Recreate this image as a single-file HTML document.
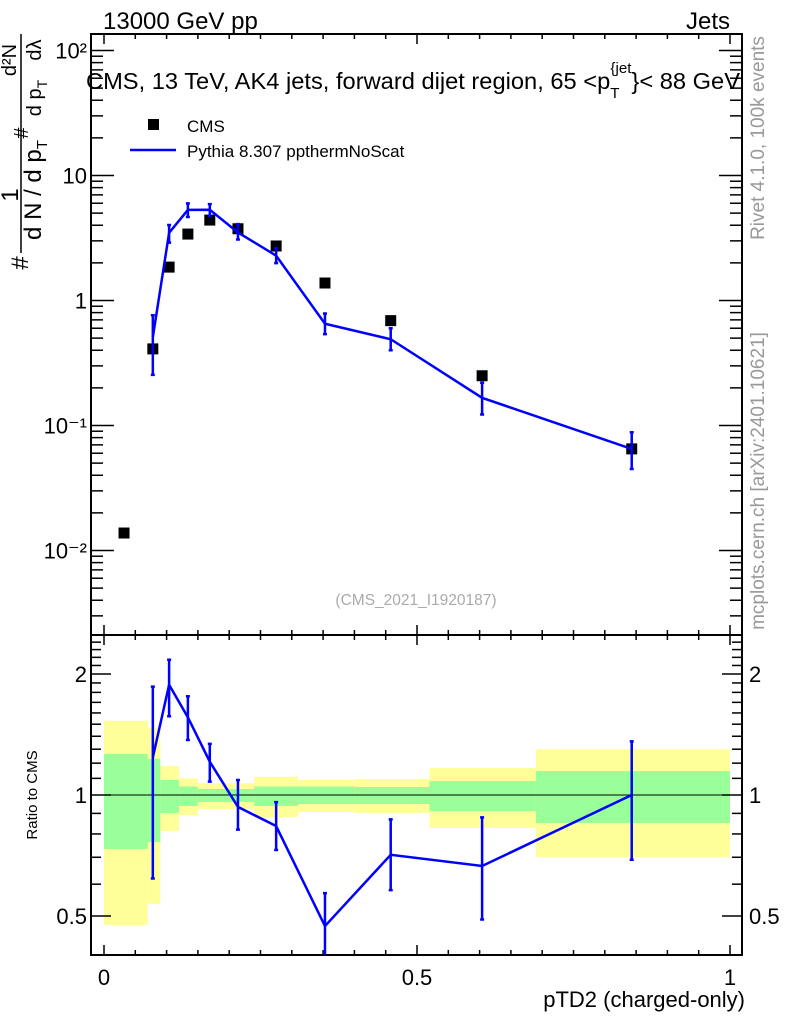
<!DOCTYPE html>
<html><head><meta charset="utf-8"><style>
body{margin:0;background:#fff;}
svg{display:block;font-family:"Liberation Sans",sans-serif;}
</style></head><body>
<svg id="c" width="786" height="1024" viewBox="0 0 786 1024">
<g id="bands"></g>
<g id="axes"></g>
<g id="marks"></g>
<text x="103" y="29" font-size="24">13000 GeV pp</text>
<text x="730" y="29" font-size="24" text-anchor="end">Jets</text>
<text x="86" y="89" font-size="23.5" textLength="654" lengthAdjust="spacingAndGlyphs">CMS, 13 TeV, AK4 jets, forward dijet region, 65 &lt;p<tspan font-size="15" dy="9">T</tspan><tspan font-size="15" dx="-9" dy="-25">{jet</tspan><tspan dy="16">}&lt; 88 GeV</tspan></text>
<rect x="148" y="119" width="11" height="11" fill="#000"/>
<text x="187" y="132" font-size="17">CMS</text>
<line x1="130" y1="150" x2="176" y2="150" stroke="#0000ff" stroke-width="2.5"/>
<text x="187" y="157" font-size="17">Pythia 8.307 ppthermNoScat</text>
<text x="416" y="605" font-size="15.5" fill="#aaa" text-anchor="middle">(CMS_2021_I1920187)</text>
<text transform="translate(764,138) rotate(-90)" font-size="19" fill="#999" text-anchor="middle">Rivet 4.1.0,  100k events</text>
<text transform="translate(764,481) rotate(-90)" font-size="19" fill="#999" text-anchor="middle">mcplots.cern.ch [arXiv:2401.10621]</text>
<text transform="translate(37,795) rotate(-90)" font-size="15" text-anchor="middle">Ratio to CMS</text>
<text x="745" y="1007" font-size="22" text-anchor="end">pTD2 (charged-only)</text>
<g font-size="24">
<text transform="translate(28,263) rotate(-90)" text-anchor="middle">#</text>
<text transform="translate(18,195) rotate(-90)" text-anchor="middle">1</text>
<line x1="21" y1="34" x2="21" y2="253" stroke="#000" stroke-width="1.5"/>
<text transform="translate(41,190) rotate(-90)" text-anchor="middle">d N / d p<tspan font-size="15" dy="6">T</tspan></text>
<text transform="translate(28,133) rotate(-90)" text-anchor="middle" font-size="20">#</text>
<text transform="translate(41,98) rotate(-90)" text-anchor="middle" font-size="20">d p<tspan font-size="14" dy="6">T</tspan></text>
<text transform="translate(16,60) rotate(-90)" text-anchor="middle" font-size="20">d²N</text>
<text transform="translate(41,50) rotate(-90)" text-anchor="middle" font-size="20">dλ</text>
</g>
</svg>
<script>
const xs=[0.032,0.078,0.104,0.134,0.169,0.214,0.275,0.353,0.458,0.604,0.843];
const cmsVals=[0.0138,0.41,1.85,3.4,4.4,3.75,2.73,1.38,0.69,0.25,0.065];
const mcX=[0.078,0.104,0.134,0.169,0.214,0.275,0.353,0.458,0.604,0.843];
const ratioVals=[1.24,1.88,1.56,1.21,0.934,0.837,0.472,0.71,0.666,1.0];
const ratioHi=[1.86,2.17,1.76,1.34,1.09,0.96,0.57,0.87,0.88,1.36];
const ratioLo=[0.62,1.57,1.37,1.08,0.82,0.73,0.39,0.58,0.49,0.69];
const binEdges=[0,0.07,0.09,0.12,0.15,0.24,0.31,0.40,0.52,0.69,1.0];
const yelHi=[1.53,1.47,1.18,1.10,1.07,1.11,1.09,1.096,1.167,1.30];
const yelLo=[0.475,0.536,0.814,0.892,0.923,0.882,0.907,0.902,0.828,0.70];
const grnHi=[1.265,1.23,1.09,1.05,1.035,1.05,1.05,1.047,1.083,1.147];
const grnLo=[0.734,0.764,0.902,0.939,0.961,0.939,0.95,0.95,0.912,0.852];
const xTicks=["0","0.5","1"];
const mainTicks=["10²","10","1","10⁻¹","10⁻²"];
const ratioTicks=["2","1","0.5"];

const NS="http://www.w3.org/2000/svg";
const L=91,R=742,T=34,MB=635,B=955;
const X=v=>104+v*626;
const YM=v=>300.5-125*Math.log10(v);
const YR=v=>795-402*Math.log10(v);
function mk(tag,attrs,parent){const e=document.createElementNS(NS,tag);for(const k in attrs)e.setAttribute(k,attrs[k]);parent.appendChild(e);return e;}
const bands=document.getElementById('bands'),axes=document.getElementById('axes'),marks=document.getElementById('marks');

for(let i=0;i<yelHi.length;i++){
  const x1=X(binEdges[i]),x2=X(binEdges[i+1]);
  const y=mk('rect',{x:x1,y:YR(yelHi[i]),width:x2-x1,height:YR(yelLo[i])-YR(yelHi[i]),fill:'#ffff99'},bands);
  
  
  const g=mk('rect',{x:x1,y:YR(grnHi[i]),width:x2-x1,height:YR(grnLo[i])-YR(grnHi[i]),fill:'#99ff99'},bands);
  
  
}
mk('rect',{x:L,y:T,width:R-L,height:MB-T,fill:'none',stroke:'#000','stroke-width':2},axes);
mk('rect',{x:L,y:MB,width:R-L,height:B-MB,fill:'none',stroke:'#000','stroke-width':2},axes);
mk('line',{x1:L,y1:YR(1),x2:R,y2:YR(1),stroke:'#000','stroke-width':1},axes);
for(let k=0;k<=20;k++){const v=k*0.05,x=X(v),len=(k%10==0)?10:5;
  [[T,1],[MB,-1],[MB,1],[B,-1]].forEach(([y0,d])=>mk('line',{x1:x,y1:y0,x2:x,y2:y0+d*len,stroke:'#000','stroke-width':1.5},axes));}
xTicks.forEach((t,i)=>{const e=mk('text',{x:X(i*0.5),y:985,'font-size':22,'text-anchor':'middle'},axes);e.textContent=t;
  
  });
for(let d=-3;d<=2;d++)for(let m=1;m<=9;m++){const v=m*Math.pow(10,d),y=YM(v);if(y<T||y>MB)continue;const len=m==1?23:12;
  mk('line',{x1:L,y1:y,x2:L+len,y2:y,stroke:'#000','stroke-width':1.5},axes);
  mk('line',{x1:R,y1:y,x2:R-len,y2:y,stroke:'#000','stroke-width':1.5},axes);}
mainTicks.forEach((t,i)=>{const e=mk('text',{x:87,y:YM(Math.pow(10,2-i))+8,'font-size':22,'text-anchor':'end'},axes);e.textContent=t;
  
  });
for(let k=4;k<=25;k++){const v=k/10,y=YR(v);if(y<MB||y>B)continue;const len=(k==5||k==10||k==20)?20:10;
  mk('line',{x1:L,y1:y,x2:L+len,y2:y,stroke:'#000','stroke-width':1.5},axes);
  mk('line',{x1:R,y1:y,x2:R-len,y2:y,stroke:'#000','stroke-width':1.5},axes);}
ratioTicks.forEach(t=>{const v=parseFloat(t);
  const e=mk('text',{x:87,y:YR(v)+8,'font-size':22,'text-anchor':'end'},axes);e.textContent=t;
  
  
  const e2=mk('text',{x:749,y:YR(v)+8,'font-size':22},axes);e2.textContent=t;
  
  });
xs.forEach((v,i)=>{const s=mk('rect',{x:X(v)-5.5,y:YM(cmsVals[i])-5.5,width:11,height:11,fill:'#000'},marks);
  
  });
const mcVals=mcX.map((v,i)=>ratioVals[i]*cmsVals[xs.indexOf(v)]);
const pm=mk('polyline',{points:mcX.map((v,i)=>X(v)+','+YM(mcVals[i])).join(' '),fill:'none',stroke:'#0000ff','stroke-width':2.5},marks);


mcX.forEach((v,i)=>{const x=X(v),y1=YM(mcVals[i]*ratioHi[i]/ratioVals[i]),y2=YM(mcVals[i]*ratioLo[i]/ratioVals[i]);
  const e=mk('path',{d:`M${x},${y1}V${y2}M${x-2},${y1}H${x+2}M${x-2},${y2}H${x+2}`,stroke:'#0000ff','stroke-width':2.5,fill:'none'},marks);
  
  });
const clip=y=>Math.max(MB,Math.min(B,y));
const pr=mk('polyline',{points:mcX.map((v,i)=>X(v)+','+clip(YR(ratioVals[i]))).join(' '),fill:'none',stroke:'#0000ff','stroke-width':2.5},marks);


mcX.forEach((v,i)=>{const x=X(v),y1=clip(YR(ratioHi[i])),y2=clip(YR(ratioLo[i]));
  const e=mk('path',{d:`M${x},${y1}V${y2}M${x-2},${y1}H${x+2}`+(y2<B?`M${x-2},${y2}H${x+2}`:''),stroke:'#0000ff','stroke-width':2.5,fill:'none'},marks);
  
  });
</script>
</body></html>
